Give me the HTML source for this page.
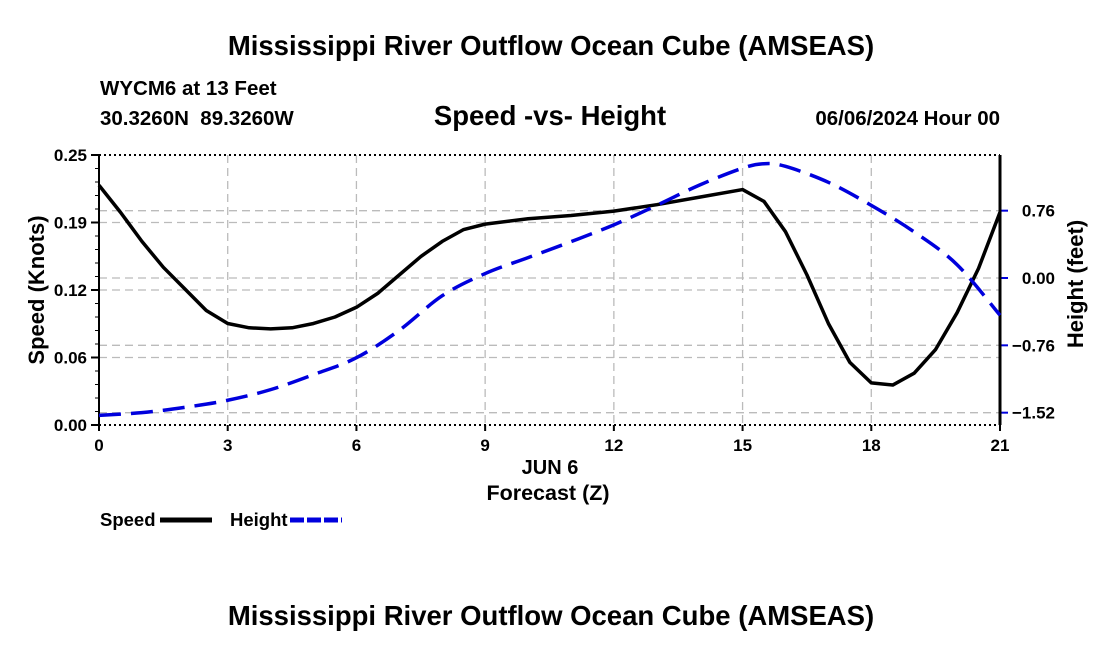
<!DOCTYPE html>
<html><head><meta charset="utf-8"><style>
body{margin:0;background:#fff;}
svg text{font-family:"Liberation Sans",Arial,sans-serif;font-weight:bold;fill:#000;}
</style></head><body>
<svg id="c" width="1100" height="650" xmlns="http://www.w3.org/2000/svg">
<text x="551" y="55" font-size="27.5" text-anchor="middle">Mississippi River Outflow Ocean Cube (AMSEAS)</text>
<text x="100" y="95" font-size="20.5">WYCM6 at 13 Feet</text>
<text x="100" y="125" font-size="20.5" xml:space="preserve">30.3260N  89.3260W</text>
<text x="550" y="125" font-size="27.5" text-anchor="middle">Speed -vs- Height</text>
<text x="1000" y="125" font-size="20.5" text-anchor="end">06/06/2024 Hour 00</text>
<g id="grid"></g>
<g id="axes"></g>
<g id="series"></g>
<text x="550" y="474" font-size="20" text-anchor="middle">JUN 6</text>
<text x="548" y="500" font-size="21.5" text-anchor="middle">Forecast (Z)</text>
<text x="44" y="290" font-size="22" text-anchor="middle" transform="rotate(-90 44 290)">Speed (Knots)</text>
<text x="1083" y="284" font-size="22" text-anchor="middle" transform="rotate(-90 1083 284)">Height (feet)</text>
<g><text x="100" y="526" font-size="18.5">Speed</text><line x1="160" y1="520" x2="212" y2="520" stroke="#000" stroke-width="5"/></g>
<g><text x="230" y="526" font-size="18.5">Height</text><line x1="290" y1="520" x2="342" y2="520" stroke="#0000dd" stroke-width="5" stroke-dasharray="14,3"/></g>
<text x="551" y="625" font-size="27.5" text-anchor="middle">Mississippi River Outflow Ocean Cube (AMSEAS)</text>
</svg>
<script>
const hours=[0,0.5,1,1.5,2,2.5,3,3.5,4,4.5,5,5.5,6,6.5,7,7.5,8,8.5,9,10,11,12,13,14,15,15.5,16,16.5,17,17.5,18,18.5,19,19.5,20,20.5,21];
const speed=[0.222,0.197,0.170,0.146,0.126,0.106,0.094,0.090,0.089,0.090,0.094,0.100,0.109,0.122,0.139,0.156,0.170,0.181,0.186,0.191,0.194,0.198,0.204,0.211,0.218,0.207,0.179,0.139,0.094,0.058,0.039,0.037,0.048,0.070,0.104,0.145,0.197];
const heightHours=[0,1,2,3,4,5,6,7,8,9,10,11,12,13,14,15,15.5,16,17,18,19,20,21];
const heightFt=[-1.55,-1.52,-1.46,-1.38,-1.26,-1.09,-0.90,-0.59,-0.20,0.05,0.23,0.41,0.60,0.82,1.05,1.24,1.29,1.26,1.08,0.82,0.52,0.15,-0.42];
const xTicks=[0,3,6,9,12,15,18,21];
const speedTicks=[0,0.0625,0.125,0.1875,0.25];
const speedTickLabels=["0.00","0.06","0.12","0.19","0.25"];
const heightTicks=[-1.52,-0.76,0,0.76];
const heightTickLabels=["\u22121.52","\u22120.76","0.00","0.76"];
const L=99,R=1000,T=155,B=425;
const x=h=>L+(R-L)*h/21;
const yS=s=>B-(B-T)*s/0.25;
const yH=f=>278-88.6*f;
const NS="http://www.w3.org/2000/svg";
function mk(p,tag,a){const e=document.createElementNS(NS,tag);for(const k in a)e.setAttribute(k,a[k]);p.appendChild(e);return e;}
function smooth(pts){let d="M"+pts[0][0]+","+pts[0][1];for(let i=0;i<pts.length-1;i++){const p0=pts[Math.max(0,i-1)],p1=pts[i],p2=pts[i+1],p3=pts[Math.min(pts.length-1,i+2)];
const c1=[p1[0]+(p2[0]-p0[0])/6,p1[1]+(p2[1]-p0[1])/6],c2=[p2[0]-(p3[0]-p1[0])/6,p2[1]-(p3[1]-p1[1])/6];
d+=" C"+c1[0]+","+c1[1]+" "+c2[0]+","+c2[1]+" "+p2[0]+","+p2[1];}return d;}
const grid=document.getElementById('grid'),axes=document.getElementById('axes'),ser=document.getElementById('series');
const gs={stroke:"#bbb","stroke-width":1.3,"stroke-dasharray":"8,5"};
xTicks.forEach((t,i)=>{
 if(t>0&&t<21){const l=mk(grid,'line',Object.assign({x1:x(t),x2:x(t),y1:T,y2:B},gs));
 
 }
 const tx=mk(axes,'text',{x:x(t),y:B+26,"font-size":17,"text-anchor":"middle"});tx.textContent=t;
 
 
 mk(axes,'line',{x1:x(t),x2:x(t),y1:B,y2:B+6,stroke:"#000","stroke-width":2});
});
speedTicks.forEach((t,i)=>{
 if(t>0&&t<0.25){const l=mk(grid,'line',Object.assign({x1:L,x2:R,y1:yS(t),y2:yS(t)},gs));
 
 }
 mk(axes,'line',{x1:L-8,x2:L,y1:yS(t),y2:yS(t),stroke:"#000","stroke-width":2});
 const tx=mk(axes,'text',{x:L-12,y:yS(t)+6,"font-size":17,"text-anchor":"end"});tx.textContent=speedTickLabels[i];
 
 
});
for(let s=0;s<=0.25;s+=0.0125){mk(axes,'line',{x1:L-4,x2:L,y1:yS(s),y2:yS(s),stroke:"#000","stroke-width":1});}
heightTicks.forEach((t,i)=>{
 const l=mk(grid,'line',Object.assign({x1:L,x2:R,y1:yH(t),y2:yH(t)},gs));
 
 
 mk(axes,'line',{x1:R,x2:R+8,y1:yH(t),y2:yH(t),stroke:"#0000dd","stroke-width":2});
 const tx=mk(axes,'text',{x:1055,y:yH(t)+6,"font-size":17,"text-anchor":"end"});tx.textContent=heightTickLabels[i];
 
 
});
mk(axes,'line',{x1:L,x2:R,y1:T,y2:T,stroke:"#000","stroke-width":2,"stroke-dasharray":"2,3"});
mk(axes,'line',{x1:L,x2:R,y1:B,y2:B,stroke:"#000","stroke-width":2,"stroke-dasharray":"2,3"});
mk(axes,'line',{x1:L,x2:L,y1:T,y2:B,stroke:"#000","stroke-width":2});
mk(axes,'line',{x1:R,x2:R,y1:T,y2:B,stroke:"#000","stroke-width":3});
const sp=mk(ser,'polyline',{points:hours.map((h,i)=>x(h)+","+yS(speed[i])).join(" "),fill:"none",stroke:"#000","stroke-width":3.5,"stroke-linejoin":"round"});


const hp=mk(ser,'path',{d:smooth(heightHours.map((h,i)=>[x(h),yH(heightFt[i])])),fill:"none",stroke:"#0000dd","stroke-width":3.5,"stroke-dasharray":"22,10"});


</script>
</body></html>
